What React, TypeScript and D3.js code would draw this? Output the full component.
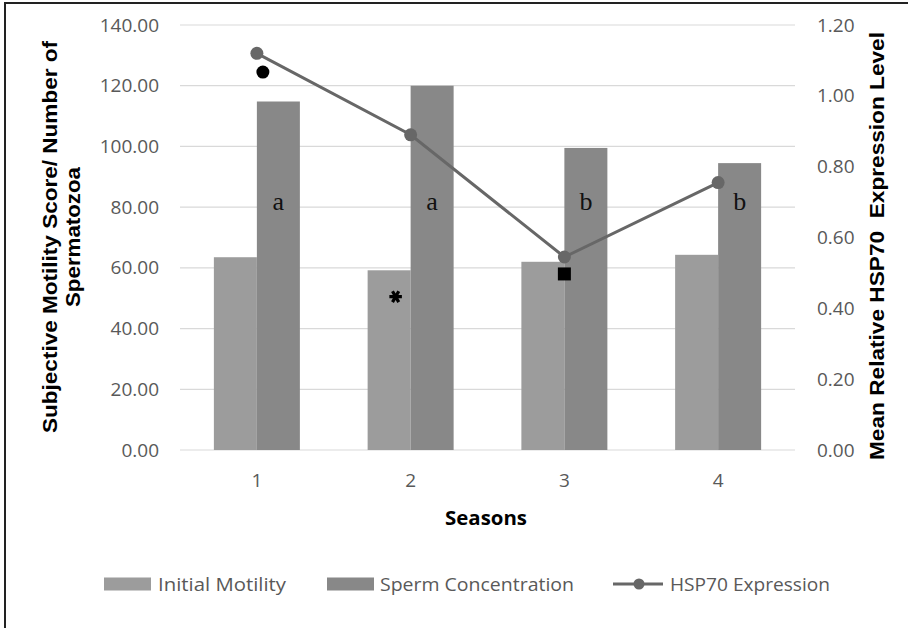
import { useEffect, useRef } from "react"
import * as d3 from "d3"

// data
const seasons = ["1", "2", "3", "4"]
const initialMotility = [63.5, 59.2, 62.0, 64.3]
const spermConcentration = [114.8, 120.0, 99.5, 94.5]
const hsp70 = [1.12, 0.89, 0.545, 0.755]
const leftTicks = [0, 20, 40, 60, 80, 100, 120, 140]
const rightTicks = [0, 0.2, 0.4, 0.6, 0.8, 1.0, 1.2]
const letters = ["a", "a", "b", "b"]
// significance markers: season, value on the left axis
const markers = [
  { season: "1", value: 124.5, kind: "dot" },
  { season: "2", value: 50.5, kind: "star" },
  { season: "3", value: 58, kind: "square" },
]

const W = 908
const H = 628
const margin = { left: 180, right: 113, top: 25, bottom: 178 }

export default function App() {
  const ref = useRef<SVGSVGElement>(null)

  useEffect(() => {
    const svg = d3.select(ref.current)
    svg.selectAll("*").remove()

    const x0 = margin.left
    const x1 = W - margin.right
    const yTop = margin.top
    const yBot = H - margin.bottom

    const x = d3.scaleBand().domain(seasons).range([x0, x1]).paddingInner(0).paddingOuter(0)
    const barW = 43
    const yL = d3.scaleLinear().domain([0, 140]).range([yBot, yTop])
    const yR = d3.scaleLinear().domain([0, 1.2]).range([yBot, yTop])
    const cx = (s: string) => (x(s) as number) + x.bandwidth() / 2

    // frame (only top and left edges visible)
    svg.append("rect")
      .attr("x", 5).attr("y", 3)
      .attr("width", W + 20).attr("height", H + 20)
      .attr("fill", "#fff").attr("stroke", "#222").attr("stroke-width", 2)

    const tickFont = "'Open Sans', 'Noto Sans', sans-serif"

    // gridlines
    svg.append("g")
      .selectAll("line")
      .data(leftTicks)
      .join("line")
      .attr("x1", x0).attr("x2", x1)
      .attr("y1", (d) => yL(d)).attr("y2", (d) => yL(d))
      .attr("stroke", "#d9d9d9").attr("stroke-width", 1.2)

    // left axis
    const leftAxis = d3.axisLeft(yL).tickValues(leftTicks).tickSize(0).tickPadding(21)
      .tickFormat((d) => (d as number).toFixed(2))
    const gl = svg.append("g").attr("transform", `translate(${x0},0)`).call(leftAxis)
    gl.select(".domain").remove()
    gl.selectAll("text").attr("font-family", tickFont).attr("font-size", 19).attr("fill", "#595959")

    // right axis
    const rightAxis = d3.axisRight(yR).tickValues(rightTicks).tickSize(0).tickPadding(22)
      .tickFormat((d) => (d as number).toFixed(2))
    const gr = svg.append("g").attr("transform", `translate(${x1},0)`).call(rightAxis)
    gr.select(".domain").remove()
    gr.selectAll("text").attr("font-family", tickFont).attr("font-size", 19).attr("fill", "#595959")

    // bottom axis
    const bottomAxis = d3.axisBottom(x).tickSize(0).tickPadding(24)
    const gb = svg.append("g").attr("transform", `translate(0,${yBot})`).call(bottomAxis)
    gb.select(".domain").remove()
    gb.selectAll("text").attr("font-family", tickFont).attr("font-size", 19).attr("fill", "#595959")

    // bars
    svg.append("g")
      .selectAll("rect")
      .data(seasons)
      .join("rect")
      .attr("x", (d) => cx(d) - barW)
      .attr("y", (d, i) => yL(initialMotility[i]))
      .attr("width", barW)
      .attr("height", (d, i) => yBot - yL(initialMotility[i]))
      .attr("fill", "#9c9c9c")

    svg.append("g")
      .selectAll("rect")
      .data(seasons)
      .join("rect")
      .attr("x", (d) => cx(d))
      .attr("y", (d, i) => yL(spermConcentration[i]))
      .attr("width", barW)
      .attr("height", (d, i) => yBot - yL(spermConcentration[i]))
      .attr("fill", "#888888")

    // letters on the concentration bars
    svg.append("g")
      .selectAll("text")
      .data(seasons)
      .join("text")
      .attr("x", (d) => cx(d) + barW / 2)
      .attr("y", yL(79))
      .attr("text-anchor", "middle")
      .attr("font-family", "'Liberation Serif', 'DejaVu Serif', serif")
      .attr("font-size", 26)
      .attr("fill", "#111")
      .text((d, i) => letters[i])

    // HSP70 line
    const line = d3.line<number>()
      .x((d, i) => cx(seasons[i]))
      .y((d) => yR(d))
    svg.append("path")
      .datum(hsp70)
      .attr("d", line)
      .attr("fill", "none")
      .attr("stroke", "#676767")
      .attr("stroke-width", 3)
    svg.append("g")
      .selectAll("circle")
      .data(hsp70)
      .join("circle")
      .attr("cx", (d, i) => cx(seasons[i]))
      .attr("cy", (d) => yR(d))
      .attr("r", 6.5)
      .attr("fill", "#676767")

    // significance markers
    markers.forEach((m) => {
      const mx = cx(m.season)
      const my = yL(m.value)
      if (m.kind === "dot") {
        svg.append("circle").attr("cx", mx + 6).attr("cy", my).attr("r", 6.5).attr("fill", "#000")
      } else if (m.kind === "square") {
        svg.append("rect").attr("x", mx - 6.5).attr("y", my - 6.5).attr("width", 13).attr("height", 13).attr("fill", "#000")
      } else {
        svg.append("path")
          .attr("d", d3.symbol(d3.symbolAsterisk, 110)())
          .attr("transform", `translate(${mx - 15},${my}) rotate(90)`)
          .attr("fill", "none")
          .attr("stroke", "#000")
          .attr("stroke-width", 3.2)
      }
    })

    // axis titles
    const titleFont = "'Liberation Sans', Arial, sans-serif"
    const lt = svg.append("text")
      .attr("transform", `translate(50,237) rotate(-90)`)
      .attr("text-anchor", "middle")
      .attr("font-family", titleFont)
      .attr("font-weight", "bold")
      .attr("font-size", 20)
      .attr("fill", "#000")
    lt.append("tspan").attr("x", 0).attr("dy", "0.35em")
      .attr("textLength", 392).attr("lengthAdjust", "spacingAndGlyphs")
      .text("Subjective Motility Score/ Number of")
    lt.append("tspan").attr("x", 0).attr("dy", "1.15em")
      .attr("textLength", 140).attr("lengthAdjust", "spacingAndGlyphs")
      .text("Spermatozoa")

    svg.append("text")
      .attr("transform", `translate(877,246) rotate(-90)`)
      .attr("text-anchor", "middle")
      .attr("dy", "0.35em")
      .attr("font-family", titleFont)
      .attr("font-weight", "bold")
      .attr("font-size", 20)
      .attr("fill", "#000")
      .attr("textLength", 428)
      .attr("lengthAdjust", "spacingAndGlyphs")
      .style("white-space", "pre")
      .text("Mean Relative HSP70  Expression Level")

    svg.append("text")
      .attr("x", 486)
      .attr("y", 518)
      .attr("dy", "0.35em")
      .attr("text-anchor", "middle")
      .attr("font-family", "'Open Sans', 'Noto Sans', sans-serif")
      .attr("font-weight", "bold")
      .attr("font-size", 19)
      .attr("fill", "#000")
      .attr("textLength", 82)
      .attr("lengthAdjust", "spacingAndGlyphs")
      .text("Seasons")

    // legend
    const ly = 584
    const lg = svg.append("g").attr("font-family", tickFont).attr("font-size", 19).attr("fill", "#595959")
    const legendText = (tx: number, len: number, label: string) =>
      lg.append("text").attr("x", tx).attr("y", ly).attr("dy", "0.35em")
        .attr("textLength", len).attr("lengthAdjust", "spacingAndGlyphs").text(label)
    lg.append("rect").attr("x", 104).attr("y", ly - 6.5).attr("width", 47).attr("height", 13).attr("fill", "#9c9c9c")
    legendText(158, 128, "Initial Motility")
    lg.append("rect").attr("x", 327).attr("y", ly - 6.5).attr("width", 47).attr("height", 13).attr("fill", "#888888")
    legendText(380, 194, "Sperm Concentration")
    lg.append("line").attr("x1", 613).attr("x2", 663).attr("y1", ly).attr("y2", ly).attr("stroke", "#676767").attr("stroke-width", 3)
    lg.append("circle").attr("cx", 639).attr("cy", ly).attr("r", 5.5).attr("fill", "#676767")
    legendText(670, 160, "HSP70 Expression")
  }, [])

  return (
    <svg
      ref={ref}
      width={W}
      height={H}
      style={{ position: "absolute", left: 0, top: 0, background: "#fff" }}
    />
  )
}
